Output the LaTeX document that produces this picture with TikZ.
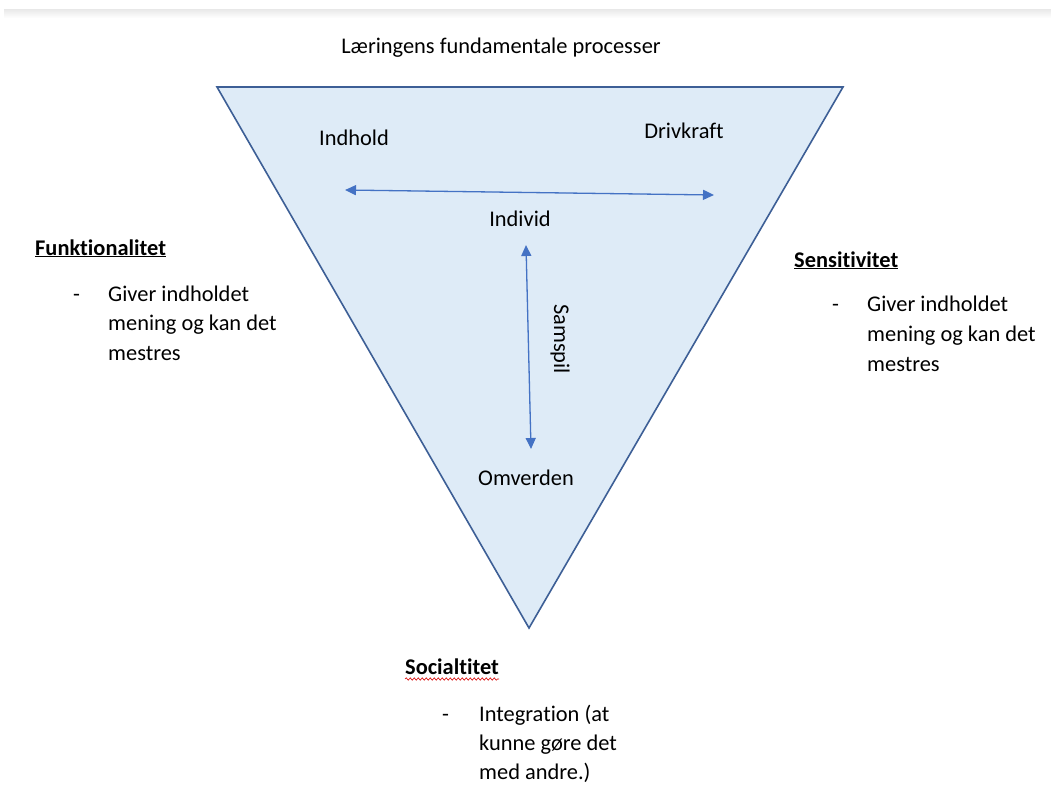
\documentclass[tikz,border=0pt]{standalone}
\usepackage{fontspec}
\setmainfont{Carlito}[Ligatures=NoCommon]
\usetikzlibrary{arrows.meta,decorations.pathmorphing,calc}
\definecolor{triFill}{HTML}{DEEBF7}
\definecolor{triLine}{HTML}{3D5F96}
\definecolor{arrBlue}{HTML}{4472C4}
\tikzset{
  txt/.style={inner sep=0pt, font=\fontsize{22.4}{29.5}\selectfont},
  lab/.style={txt, anchor=base},
  lft/.style={txt, anchor=base west},
  hdr/.style={lft, font=\fontsize{22.4}{29.5}\selectfont\bfseries},
  dbl/.style={draw=arrBlue, line width=1.3pt, {Triangle[length=11pt,width=10pt]}-{Triangle[length=11pt,width=10pt]}, fill=arrBlue},
}
\begin{document}
\begin{tikzpicture}[x=1pt,y=-1pt]
\useasboundingbox (0,0) rectangle (1051,785);
\fill[white] (0,0) rectangle (1051,785);
\shade[top color=black!9, bottom color=white, draw=none] (4,9) rectangle (1051,18);
% triangle
\coordinate (tl) at (217,87);
\coordinate (tr) at (843,87);
\coordinate (tb) at (529,628);
\draw[fill=triFill, draw=triLine, line width=1.6pt, line join=miter] (tl) -- (tr) -- (tb) -- cycle;
% labels
\node[lab] (title) at (501,53) {Læringens fundamentale processer};
\node[lab] (indhold) at (354,145) {Indhold};
\node[lab] (drivkraft) at (684,138) {Drivkraft};
\node[lab] (individ) at (520,226) {Individ};
\node[lab] (omverden) at (526,485) {Omverden};
\node[txt, rotate=-90] (samspil) at (560,339) {Samspil};
% arrows
\coordinate (hl) at (345,190);
\coordinate (hr) at (714,195);
\draw[dbl] (hl) -- (hr);
\coordinate (vt) at (526,245);
\coordinate (vb) at (531,449);
\draw[dbl] (vt) -- (vb);
% Funktionalitet
\node[hdr] (funk) at (35,255) {\underline{Funktionalitet}};
\node[lft] (fd) at (73,301) {-};
\node[lft] (f1) at (108,301) {Giver indholdet};
\node[lft] (f2) at (108,330.5) {mening og kan det};
\node[lft] (f3) at (108,360) {mestres};
% Sensitivitet
\node[hdr] (sens) at (794,267) {\underline{Sensitivitet}};
\node[lft] (sd) at (832,311) {-};
\node[lft] (s1) at (867,311) {Giver indholdet};
\node[lft] (s2) at (867,341) {mening og kan det};
\node[lft] (s3) at (867,371) {mestres};
% Socialtitet
\node[hdr] (soc) at (405,674) {Socialtitet};
\draw[red!85!black, line width=0.6pt, decorate, decoration={snake, amplitude=1.2pt, segment length=4pt}] ($(soc.base west)+(0,5)$) -- ($(soc.base east)+(0,5)$);
\node[lft] (scd) at (442,721) {-};
\node[lft] (c1) at (479,721) {Integration (at};
\node[lft] (c2) at (479,750) {kunne gøre det};
\node[lft] (c3) at (479,779) {med andre.)};
\end{tikzpicture}
\end{document}
